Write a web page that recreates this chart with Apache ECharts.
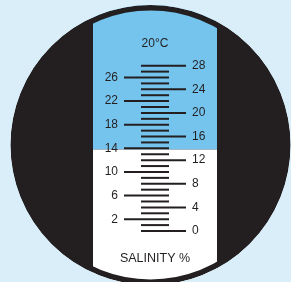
<!DOCTYPE html>
<html>
<head>
    <meta charset="utf-8" />
    <title>Salinity refractometer scale</title>
    <script src="https://cdn.jsdelivr.net/npm/echarts@6/dist/echarts.min.js"></script>
    <style>
        html, body { margin: 0; padding: 0; background: #d9eef9; }
    </style>
</head>
<body>
    <div id="main" style="width: 291px;height:282px;"></div>

    <script type="text/javascript">
        var myChart = echarts.init(document.getElementById('main'));

        // scale data
        var tickValues = [];
        for (var t = 0; t <= 28; t++) tickValues.push(t); // one tick per 1 %
        var rightLabels = [0, 4, 8, 12, 16, 20, 24, 28];
        var leftLabels = [2, 6, 10, 14, 18, 22, 26];
        var tempLabel = '20°C';
        var unitLabel = 'SALINITY %';

        var bg = '#d9eef9';
        var dark = '#231f20';
        var blue = '#74c4ee';

        // round eyepiece
        var cx = 150.5, cy = 145, R = 140, Rin = 134.5;

        function renderTick(params, api) {
            var v = api.value(0);
            var y = api.coord([0, v])[1];
            var cs = params.coordSys;
            var x0 = 141, x1 = 169;
            if (v % 4 === 0) x1 = cs.x + cs.width;
            if (v % 4 === 2) x0 = cs.x;
            return {
                type: 'line',
                shape: { x1: x0, y1: y, x2: x1, y2: y },
                style: { stroke: dark, lineWidth: 2 }
            };
        }

        var option = {
            backgroundColor: bg,
            animation: false,
            title: [
                {
                    text: tempLabel, left: 155, top: 38, textAlign: 'center', padding: 0,
                    textStyle: { fontFamily: 'Liberation Sans', fontSize: 12, fontWeight: 'normal', color: dark }
                },
                {
                    text: unitLabel, left: 155, top: 252, textAlign: 'center', padding: 0,
                    textStyle: { fontFamily: 'Liberation Sans', fontSize: 12.5, fontWeight: 'normal', color: dark }
                }
            ],
            graphic: [
                { type: 'circle', z: 0, shape: { cx: cx, cy: cy, r: R }, style: { fill: dark } },
                { type: 'rect', z: 0, shape: { x: 93, y: 0, width: 124, height: 149.5 }, style: { fill: blue } },
                { type: 'rect', z: 0, shape: { x: 93, y: 149.5, width: 124, height: 140 }, style: { fill: '#ffffff' } },
                { type: 'circle', z: 0, shape: { cx: cx, cy: cy, r: (R + Rin) / 2 }, style: { fill: 'none', stroke: dark, lineWidth: R - Rin } },
                { type: 'circle', z: 0, shape: { cx: cx, cy: cy, r: R + 100 }, style: { fill: 'none', stroke: bg, lineWidth: 200 } }
            ],
            grid: { left: 124, right: 105, top: 65.7, height: 165.3 },
            xAxis: { type: 'value', min: 0, max: 1, show: false },
            yAxis: [
                {
                    type: 'value', position: 'left', min: 0, max: 28, interval: 2,
                    axisLine: { show: false }, axisTick: { show: false }, splitLine: { show: false },
                    axisLabel: {
                        margin: 6, color: dark, fontFamily: 'Liberation Sans', fontSize: 12,
                        formatter: function (v) { return leftLabels.indexOf(v) >= 0 ? String(v) : ''; }
                    }
                },
                {
                    type: 'value', position: 'right', min: 0, max: 28, interval: 4,
                    axisLine: { show: false }, axisTick: { show: false }, splitLine: { show: false },
                    axisLabel: {
                        margin: 6, color: dark, fontFamily: 'Liberation Sans', fontSize: 12,
                        formatter: function (v) { return rightLabels.indexOf(v) >= 0 ? String(v) : ''; }
                    }
                }
            ],
            series: [
                {
                    type: 'custom',
                    renderItem: renderTick,
                    clip: false,
                    data: tickValues.map(function (v) { return [v]; })
                }
            ]
        };

        myChart.setOption(option);
    </script>
</body>
</html>
